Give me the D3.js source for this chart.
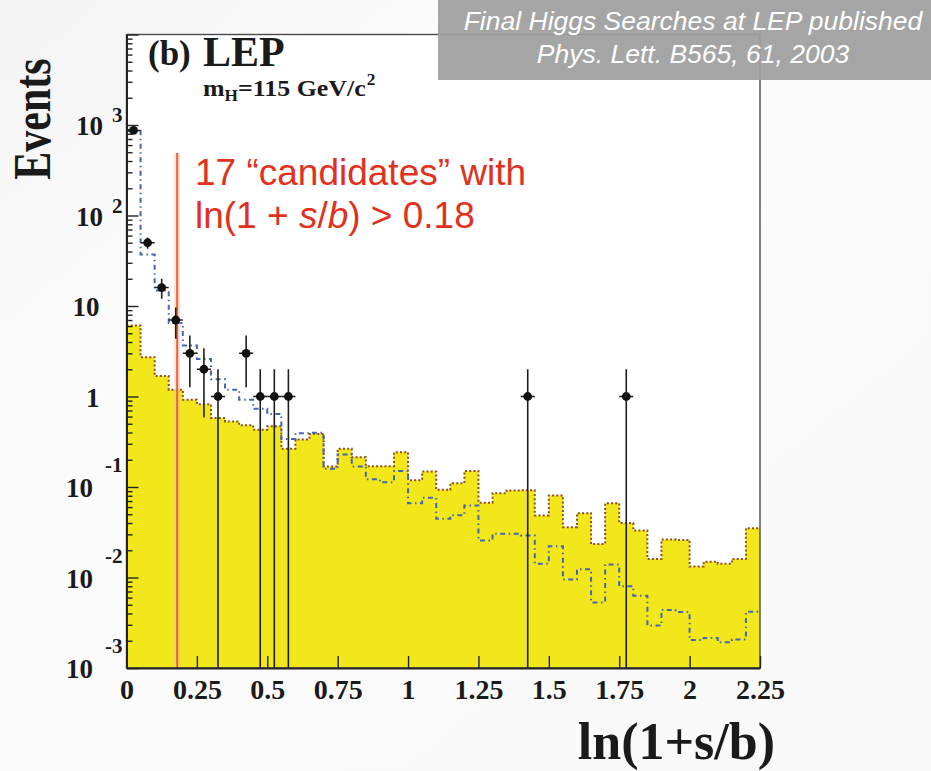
<!DOCTYPE html>
<html>
<head>
<meta charset="utf-8">
<script src="https://cdn.jsdelivr.net/npm/d3@7"></script>
<style>
  html, body { margin: 0; padding: 0; background: #f8f8f8; }
  svg { display: block; }
</style>
</head>
<body>
<svg id="chart" width="931" height="771"></svg>
<script>
// ---- histogram binning (lower bin edges, 0.05 wide) ----
const binLowEdges = [0, 0.05, 0.10, 0.15, 0.20, 0.25, 0.30, 0.35, 0.40, 0.45,
  0.50, 0.55, 0.60, 0.65, 0.70, 0.75, 0.80, 0.85, 0.90, 0.95,
  1.00, 1.05, 1.10, 1.15, 1.20, 1.25, 1.30, 1.35, 1.40, 1.45,
  1.50, 1.55, 1.60, 1.65, 1.70, 1.75, 1.80, 1.85, 1.90, 1.95,
  2.00, 2.05, 2.10, 2.15, 2.20];
const binWidth = 0.05;
const xMax = 2.25;

// expected signal, m_H = 115 GeV/c^2 (filled histogram)
const signalExpected = [6.1, 2.72, 1.68, 1.19, 0.92, 0.82, 0.58, 0.53, 0.48, 0.43,
  0.47, 0.264, 0.335, 0.385, 0.169, 0.264, 0.213, 0.170, 0.170, 0.242,
  0.119, 0.148, 0.093, 0.110, 0.150, 0.067, 0.0855, 0.0915, 0.092, 0.0484,
  0.0805, 0.036, 0.0514, 0.0234, 0.0662, 0.040, 0.0331, 0.016, 0.0263, 0.026,
  0.0132, 0.0149, 0.0142, 0.016, 0.0351];

// expected background (dash-dotted histogram)
const backgroundExpected = [860, 37, 14.8, 6.5, 3.66, 2.6, 1.55, 1.19, 0.92, 0.73,
  0.64, 0.34, 0.393, 0.397, 0.159, 0.229, 0.169, 0.122, 0.113, 0.150,
  0.066, 0.076, 0.0445, 0.0487, 0.0625, 0.0256, 0.0304, 0.0304, 0.0292, 0.0142,
  0.0221, 0.0095, 0.0123, 0.0053, 0.0139, 0.0080, 0.0063, 0.00294, 0.00438, 0.00415,
  0.00204, 0.00215, 0.00192, 0.00207, 0.00419];

// observed events (non-empty bins only)
const observedCenters = [0.025, 0.075, 0.125, 0.175, 0.225, 0.275, 0.325, 0.425, 0.475, 0.525, 0.575, 1.425, 1.775];
const observedCounts  = [870, 50, 16, 7, 3, 2, 1, 3, 1, 1, 1, 1, 1];

// selection cut
const cutValue = 0.18;
const candidateCount = 17;

// axis ticks
const xTickValues = [0, 0.25, 0.5, 0.75, 1, 1.25, 1.5, 1.75, 2, 2.25];
const xTickLabels = ["0", "0.25", "0.5", "0.75", "1", "1.25", "1.5", "1.75", "2", "2.25"];
const yDecadeExponents = [-3, -2, -1, 0, 1, 2, 3];
const yMin = 1e-3, yMax = 1e4;

// ---- layout ----
const frame = { left: 126.5, right: 760, top: 34.5, bottom: 668 };
const serif = "'Liberation Serif', 'Times New Roman', serif";
const sans = "'Liberation Sans', Arial, Helvetica, sans-serif";

const svg = d3.select("#chart");

// page background
const defs = svg.append("defs");
const bg = defs.append("linearGradient").attr("id", "pageBg")
  .attr("x1", "0").attr("y1", "0").attr("x2", "1").attr("y2", "1");
bg.append("stop").attr("offset", "0").attr("stop-color", "#f3f3f3");
bg.append("stop").attr("offset", "0.25").attr("stop-color", "#fbfbfb");
bg.append("stop").attr("offset", "1").attr("stop-color", "#f9f9f9");
svg.append("rect").attr("width", 931).attr("height", 771).attr("fill", "url(#pageBg)");

defs.append("clipPath").attr("id", "plotClip")
  .append("rect")
  .attr("x", frame.left).attr("y", frame.top)
  .attr("width", frame.right - frame.left).attr("height", frame.bottom - frame.top);

const x = d3.scaleLinear().domain([0, xMax]).range([frame.left, frame.right]);
const y = d3.scaleLog().domain([yMin, yMax]).range([frame.bottom, frame.top]);

// plot area
svg.append("rect")
  .attr("x", frame.left).attr("y", frame.top)
  .attr("width", frame.right - frame.left).attr("height", frame.bottom - frame.top)
  .attr("fill", "#ffffff");

const plot = svg.append("g").attr("clip-path", "url(#plotClip)");

// step-histogram helpers
function stepPoints(values) {
  const pts = values.map((v, i) => [binLowEdges[i], v]);
  pts.push([xMax, values[values.length - 1]]);
  return pts;
}

const sigPts = stepPoints(signalExpected);

// filled signal histogram
plot.append("path")
  .datum(sigPts)
  .attr("fill", "#f2e71a")
  .attr("d", d3.area().curve(d3.curveStepAfter)
    .x(d => x(d[0])).y0(y(yMin)).y1(d => y(d[1])));

// dotted outline of signal histogram
plot.append("path")
  .datum(sigPts)
  .attr("fill", "none")
  .attr("stroke", "#8e4e1e")
  .attr("stroke-width", 2)
  .attr("stroke-dasharray", "2,2.2")
  .attr("d", d3.line().curve(d3.curveStepAfter).x(d => x(d[0])).y(d => y(d[1])));

// background dash-dotted histogram
plot.append("path")
  .datum(stepPoints(backgroundExpected))
  .attr("fill", "none")
  .attr("stroke", "#4464b4")
  .attr("stroke-width", 2)
  .attr("stroke-dasharray", "5,3.5,1.5,3.5")
  .attr("d", d3.line().curve(d3.curveStepAfter).x(d => x(d[0])).y(d => y(d[1])));

// cut line with a soft glow
const cutTop = 153;
plot.append("line")
  .attr("x1", x(cutValue)).attr("x2", x(cutValue))
  .attr("y1", cutTop).attr("y2", frame.bottom)
  .attr("stroke", "#f4bfae").attr("stroke-opacity", 0.45).attr("stroke-width", 6);
plot.append("line")
  .attr("x1", x(cutValue)).attr("x2", x(cutValue))
  .attr("y1", cutTop).attr("y2", frame.bottom)
  .attr("stroke", "#e9603c").attr("stroke-width", 2);

// observed data with Poisson errors
const obs = observedCenters.map((c, i) => ({ c, n: observedCounts[i] }));
const pts = plot.append("g").selectAll("g").data(obs).join("g");
pts.append("line")
  .attr("x1", d => x(d.c)).attr("x2", d => x(d.c))
  .attr("y1", d => y(d.n + Math.sqrt(d.n)))
  .attr("y2", d => { const lo = d.n - Math.sqrt(d.n); return lo > yMin ? y(lo) : frame.bottom; })
  .attr("stroke", "#1e1e1e").attr("stroke-width", 1.6);
pts.append("line")
  .attr("x1", d => x(d.c - binWidth / 2)).attr("x2", d => x(d.c + binWidth / 2))
  .attr("y1", d => y(d.n)).attr("y2", d => y(d.n))
  .attr("stroke", "#1e1e1e").attr("stroke-width", 1.6);
pts.append("circle")
  .attr("cx", d => x(d.c)).attr("cy", d => y(d.n)).attr("r", 4.4)
  .attr("fill", "#111");

// frame
svg.append("rect")
  .attr("x", frame.left).attr("y", frame.top)
  .attr("width", frame.right - frame.left).attr("height", frame.bottom - frame.top)
  .attr("fill", "none").attr("stroke", "#4a4a4a").attr("stroke-width", 1.4);

// ---- x axis ----
const xMinorTicks = binLowEdges.concat([xMax]).filter(v => !xTickValues.some(t => Math.abs(t - v) < 1e-9));
const xAxisG = svg.append("g").attr("transform", `translate(0,${frame.bottom})`);
xAxisG.call(d3.axisBottom(x).tickValues(xMinorTicks).tickSizeInner(-6).tickSizeOuter(0).tickFormat(""));
xAxisG.call(d3.axisBottom(x).tickValues(xTickValues).tickSizeInner(-12).tickSizeOuter(0)
  .tickPadding(11).tickFormat((d, i) => xTickLabels[i]));
xAxisG.selectAll("path.domain").attr("stroke", "#222").attr("stroke-width", 2);
xAxisG.selectAll(".tick line").attr("stroke", "#222").attr("stroke-width", 1.4);
xAxisG.selectAll(".tick text")
  .attr("fill", "#1a1a1a")
  .style("font-family", serif).style("font-weight", "bold").style("font-size", "28px");

// ---- y axis ----
const yMajor = yDecadeExponents.map(k => Math.pow(10, k)).concat([yMax]);
const yMinor = [];
yDecadeExponents.forEach(k => { for (let m = 2; m <= 9; m++) yMinor.push(m * Math.pow(10, k)); });
const yAxisG = svg.append("g").attr("transform", `translate(${frame.left},0)`);
yAxisG.call(d3.axisLeft(y).tickValues(yMinor).tickSizeInner(-6).tickSizeOuter(0).tickFormat(""));
const yMajorG = svg.append("g").attr("transform", `translate(${frame.left},0)`);
yMajorG.call(d3.axisLeft(y).tickValues(yMajor).tickSizeInner(-12).tickSizeOuter(0).tickFormat(""));
[yAxisG, yMajorG].forEach(g => {
  g.selectAll("path.domain").attr("stroke", "#222").attr("stroke-width", 2);
  g.selectAll(".tick line").attr("stroke", "#222").attr("stroke-width", 1.4);
});

// decade labels as 10^k
yMajorG.selectAll(".tick").each(function (v) {
  const k = Math.round(Math.log10(v));
  if (!yDecadeExponents.includes(k)) return;
  const g = d3.select(this);
  const t = g.append("text")
    .attr("fill", "#1a1a1a")
    .style("font-family", serif).style("font-weight", "bold")
    .attr("text-anchor", "end");
  if (k === 0 || k === 1) {
    t.attr("x", -27).attr("y", 9.5).style("font-size", "27px").text(k === 0 ? "1" : "10");
  } else {
    t.attr("x", -4).attr("y", 9.5);
    t.append("tspan").style("font-size", "27px").text("10");
    t.append("tspan")
      .attr("dx", k < 0 ? 12 : 9)
      .attr("dy", k < 0 ? -25 : -13)
      .style("font-size", "21px")
      .text(String(k));
  }
});

// ---- axis titles ----
svg.append("text")
  .attr("transform", "translate(50,119) rotate(-90) scale(1,1.28)")
  .attr("text-anchor", "middle")
  .attr("fill", "#1a1a1a")
  .style("font-family", serif).style("font-weight", "bold").style("font-size", "42px")
  .text("Events");

svg.append("text")
  .attr("x", 775).attr("y", 759)
  .attr("text-anchor", "end")
  .attr("fill", "#1a1a1a")
  .style("font-family", serif).style("font-weight", "bold").style("font-size", "52px")
  .text("ln(1+s/b)");

// ---- panel title ----
svg.append("text")
  .attr("x", 148).attr("y", 65)
  .attr("fill", "#1a1a1a")
  .style("font-family", serif).style("font-weight", "bold").style("font-size", "35px")
  .text("(b)");
svg.append("text")
  .attr("x", 203).attr("y", 65.5)
  .attr("fill", "#1a1a1a")
  .style("font-family", serif).style("font-weight", "bold").style("font-size", "42px")
  .text("LEP");

// m_H line, drawn slightly wide; the exponent sits in its own text
const mhG = svg.append("g").attr("transform", "translate(203,96) scale(1.08,1)")
  .attr("fill", "#1a1a1a")
  .style("font-family", serif).style("font-weight", "bold");
const mh = mhG.append("text").attr("x", 0).attr("y", 0).style("font-size", "24px");
mh.append("tspan").text("m");
mh.append("tspan").attr("dy", 5).style("font-size", "16px").text("H");
mh.append("tspan").attr("dy", -5).text("=115 GeV/c");
const mhWidth = mh.node().getComputedTextLength();
mhG.append("text").attr("x", mhWidth + 1).attr("y", -11).style("font-size", "16px").text("2");

// ---- cut annotation ----
const ann = svg.append("g")
  .attr("fill", "#e0311d")
  .style("font-family", sans).style("font-size", "37px");
ann.append("text").attr("x", 195).attr("y", 185)
  .text(`${candidateCount} \u201Ccandidates\u201D with`);
const ann2 = ann.append("text").attr("x", 195).attr("y", 228);
ann2.append("tspan").text("ln(1 + ");
ann2.append("tspan").style("font-style", "italic").text("s");
ann2.append("tspan").text("/");
ann2.append("tspan").style("font-style", "italic").text("b");
ann2.append("tspan").text(`) > ${cutValue}`);

// ---- publication banner ----
svg.append("rect")
  .attr("x", 438).attr("y", 0).attr("width", 493).attr("height", 80)
  .attr("fill", "#9e9e9e").attr("fill-opacity", 0.93);
const banner = svg.append("g")
  .attr("fill", "#ffffff")
  .attr("text-anchor", "middle")
  .style("font-family", sans).style("font-style", "italic").style("font-size", "26.5px");
banner.append("text").attr("x", 693).attr("y", 30).text("Final Higgs Searches at LEP published");
banner.append("text").attr("x", 693).attr("y", 63).text("Phys. Lett. B565, 61, 2003");
</script>
</body>
</html>
